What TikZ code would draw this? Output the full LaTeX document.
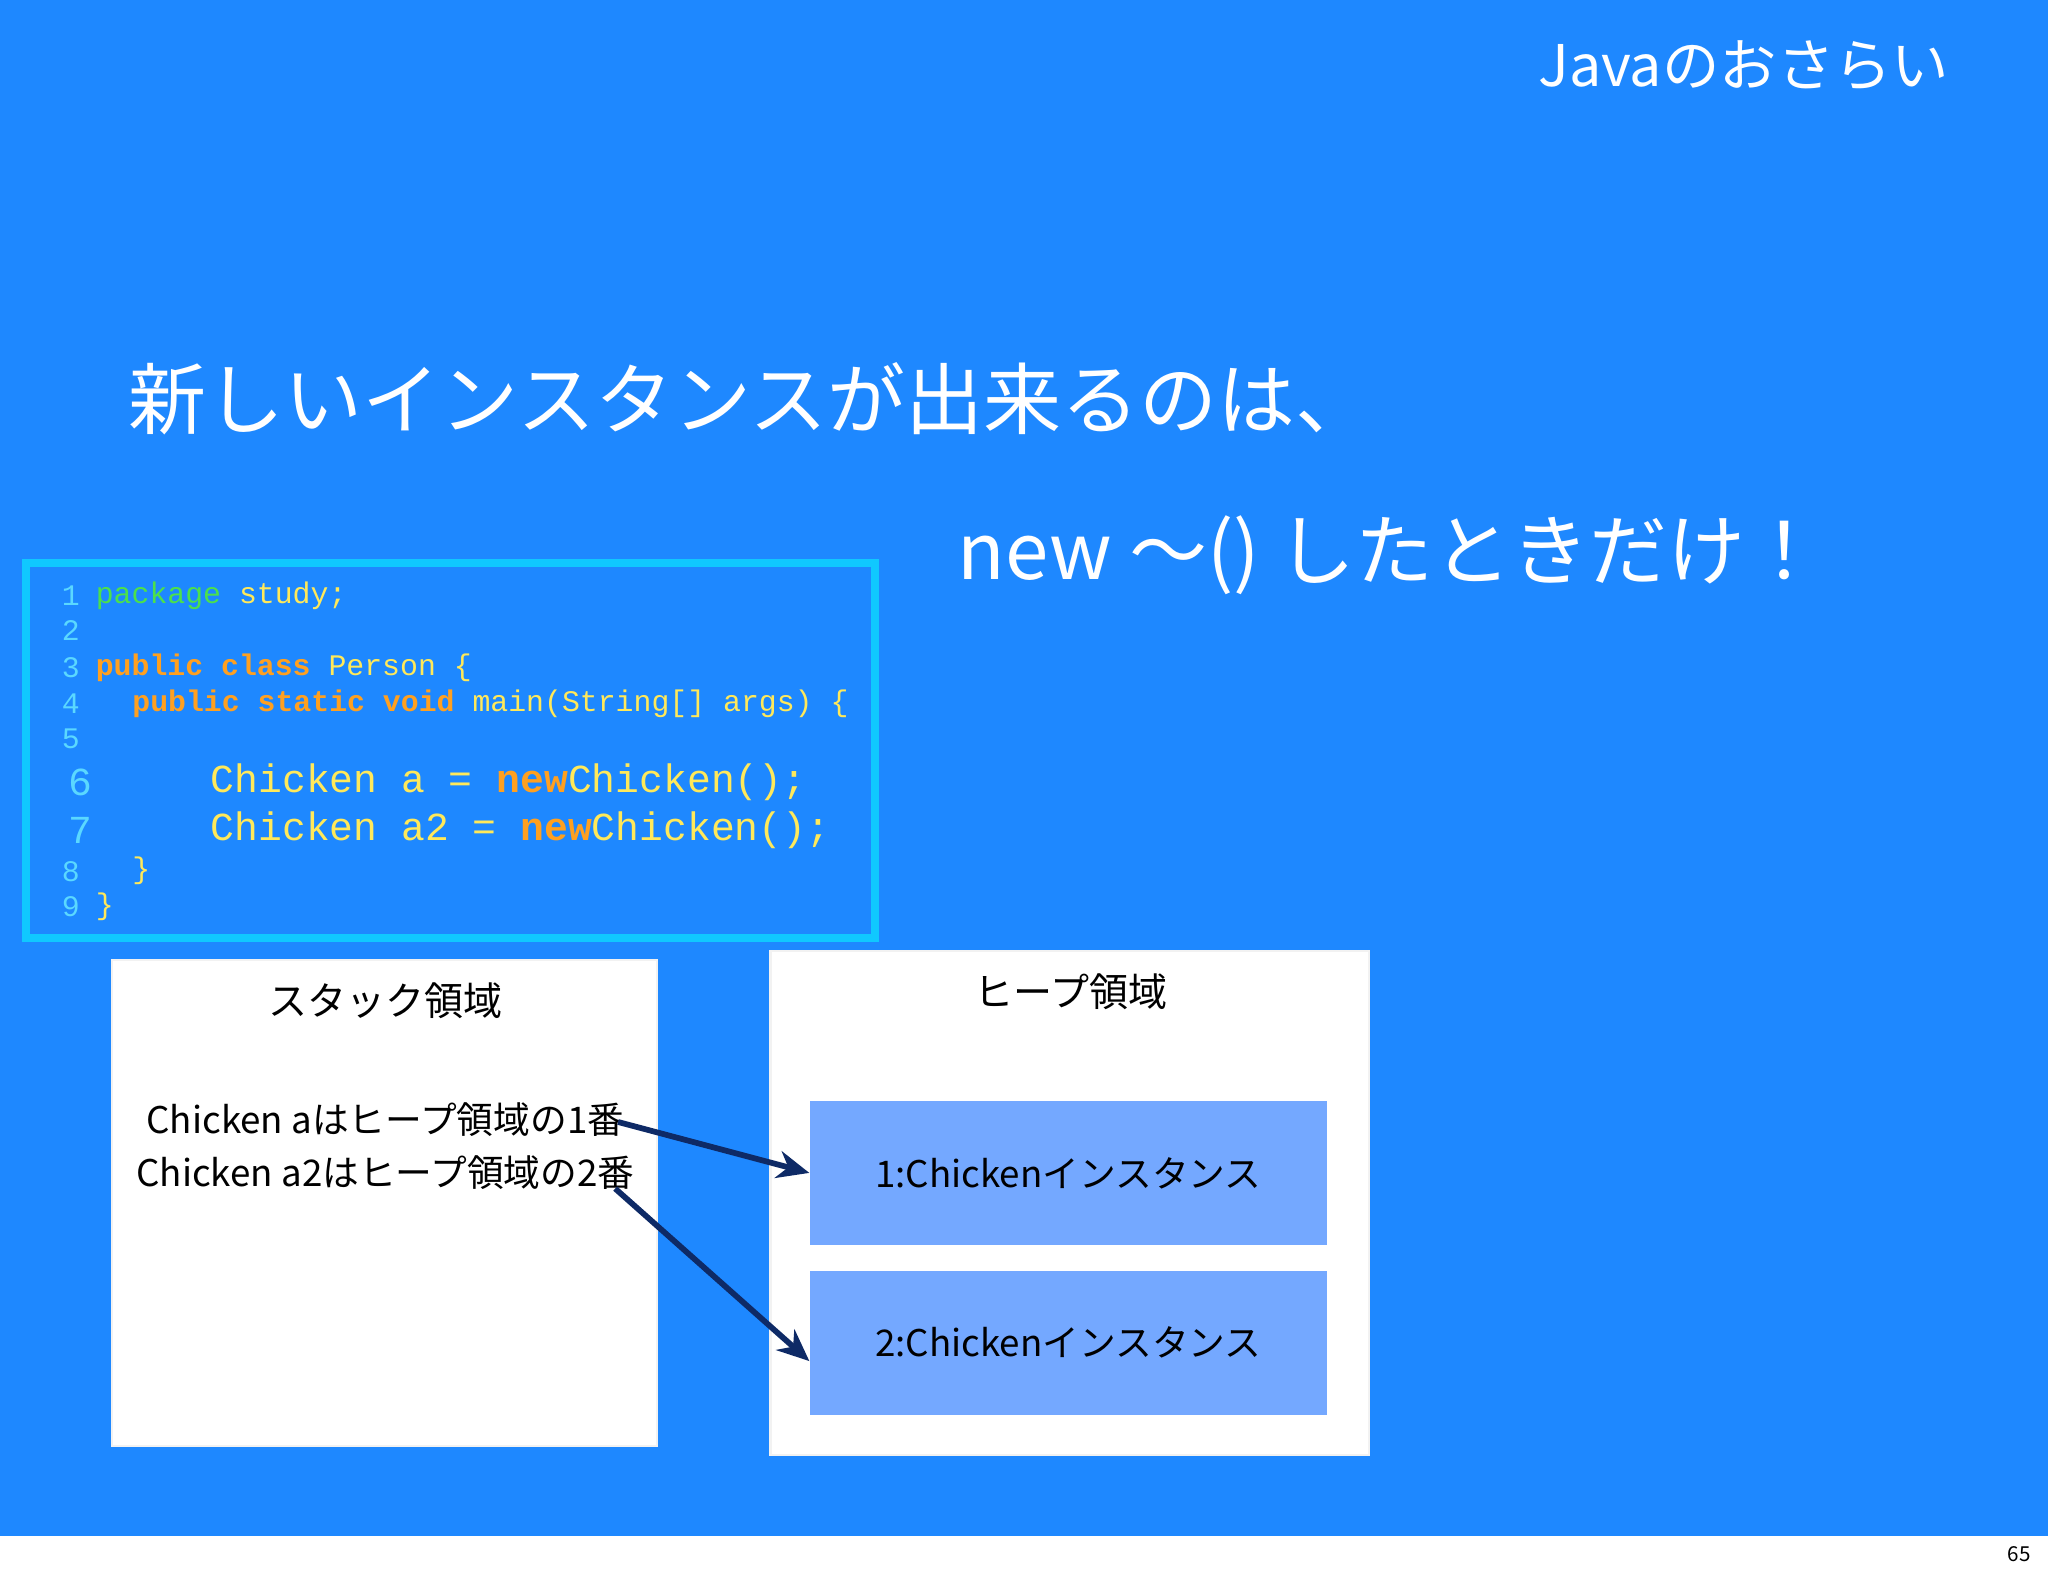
\documentclass[tikz,border=0pt]{standalone}
\usepackage{fontspec}
\setmainfont{Noto Sans CJK JP}
\newfontfamily\codefont{Liberation Mono}
\usetikzlibrary{arrows.meta}
\definecolor{bg}{HTML}{1E88FF}
\definecolor{codeborder}{HTML}{10C8FF}
\definecolor{numc}{HTML}{5AD8FF}
\definecolor{kwg}{HTML}{4CE04C}
\definecolor{kwo}{HTML}{FFA020}
\definecolor{idy}{HTML}{FFE95A}
\definecolor{inst}{HTML}{74A8FF}
\definecolor{arr}{HTML}{0E2A66}
\tikzset{
  px/.style={x=0.02cm,y=-0.02cm},
  whitebox/.style={fill=white,draw=white!90!gray,line width=1pt},
  instbox/.style={fill=inst,draw=none},
  code/.style={anchor=west,inner sep=0pt,font=\codefont\fontsize{13}{13}\selectfont},
  bigcode/.style={anchor=west,inner sep=0pt,font=\codefont\fontsize{17.3}{17}\selectfont},
  ptr/.style={arr,line width=2.5pt,-{Stealth[length=14pt,width=12pt]}},
  lbl/.style={font=\fontsize{16}{19}\selectfont,inner sep=0pt,align=center}
}
\begin{document}
\begin{tikzpicture}[px]
\fill[bg] (0,0) rectangle (1568,1176);
\fill[white] (0,1176) rectangle (1568,1206);
\useasboundingbox (0,0) rectangle (1568,1206);
\node[font=\fontsize{9}{10}\selectfont] (pg) at (1546,1190) {65};
\node[white,font=\fontsize{25}{30}\selectfont] (title) at (1335,50) {Javaのおさらい};
\node[white,anchor=west,inner sep=0pt,font=\fontsize{34}{40}\selectfont] (h1) at (98,305) {新しいインスタンスが出来るのは、};
\node[white,anchor=west,inner sep=0pt,font=\fontsize{34}{40}\selectfont] (h2) at (733,425) {new 〜() したときだけ！};
% code box
\draw[codeborder,line width=3.5pt] (20,431) rectangle (670,718);
\node[code,numc] at (47,456) {1};
\node[code] at (73,456) {\textcolor{kwg}{package} \textcolor{idy}{study;}};
\node[code,numc] at (47,483) {2};
\node[code,numc] at (47,511) {3};
\node[code] at (73,511) {\textcolor{kwo}{\bfseries public class} \textcolor{idy}{Person \{}};
\node[code,numc] at (47,539) {4};
\node[code] at (101,539) {\textcolor{kwo}{\bfseries public static void} \textcolor{idy}{main(String[] args) \{}};
\node[code,numc] at (47,566) {5};
\node[bigcode,numc] at (52,599) {6};
\node[bigcode] at (161,599) {\textcolor{idy}{Chicken a = }\textcolor{kwo}{\bfseries new}\textcolor{idy}{ Chicken();}};
\node[bigcode,numc] at (52,636) {7};
\node[bigcode] at (161,636) {\textcolor{idy}{Chicken a2 = }\textcolor{kwo}{\bfseries new}\textcolor{idy}{ Chicken();}};
\node[code,numc] at (47,667) {8};
\node[code,idy] at (101,667) {\}};
\node[code,numc] at (47,694) {9};
\node[code,idy] at (73,694) {\}};
% stack
\draw[whitebox] (86,735) rectangle (503,1107);
\node[lbl,font=\fontsize{17}{20}\selectfont] (st) at (295,766) {スタック領域};
\node[lbl] (sa) at (295,857) {Chicken aはヒープ領域の1番};
\node[lbl] (sa2) at (295,898) {Chicken a2はヒープ領域の2番};
% heap
\draw[whitebox] (590,728) rectangle (1048,1114);
\node[lbl,font=\fontsize{17}{20}\selectfont] (hp) at (820,759) {ヒープ領域};
\node[instbox,minimum width=396*0.02cm,minimum height=110*0.02cm,lbl] (i1) at (818,898) {1:Chickenインスタンス};
\node[instbox,minimum width=396*0.02cm,minimum height=110*0.02cm,lbl] (i2) at (818,1028) {2:Chickenインスタンス};
\draw[ptr] (sa.east) ++(-5,2) coordinate (s1) -- (i1.west);
\draw[ptr] (sa2.east) ++(-15,12) coordinate (s2) -- ([yshift=-8]i2.west);
\end{tikzpicture}
\end{document}
